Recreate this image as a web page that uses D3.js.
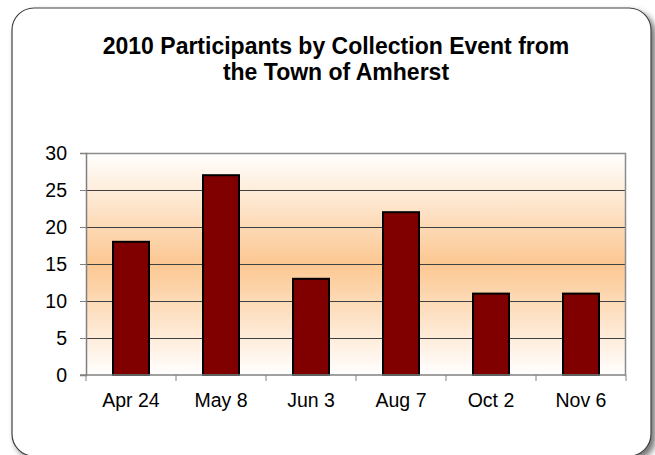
<!DOCTYPE html>
<html>
<head>
<meta charset="utf-8">
<script src="https://cdnjs.cloudflare.com/ajax/libs/d3/7.8.5/d3.min.js"></script>
<style>
  body { margin: 0; background: #fff; }
  text { font-family: "Liberation Sans", Arial, sans-serif; }
</style>
</head>
<body>
<svg width="655" height="455"></svg>
<script>
// chart data
var events = ["Apr 24", "May 8", "Jun 3", "Aug 7", "Oct 2", "Nov 6"];
var participants = [18, 27, 13, 22, 11, 11];
var yTicks = [0, 5, 10, 15, 20, 25, 30];
var titleLines = ["2010 Participants by Collection Event from", "the Town of Amherst"];

var svg = d3.select("svg"),
    margin = {top: 153, right: 29, bottom: 80, left: 86},
    width = +svg.attr("width"),
    height = +svg.attr("height");

var defs = svg.append("defs");

var shadow = defs.append("filter").attr("id", "shadow")
    .attr("x", "-5%").attr("y", "-5%").attr("width", "115%").attr("height", "115%");
shadow.append("feDropShadow")
    .attr("dx", 4).attr("dy", 4).attr("stdDeviation", 3)
    .attr("flood-color", "#000").attr("flood-opacity", 0.55);

var grad = defs.append("linearGradient").attr("id", "bg")
    .attr("x1", 0).attr("y1", 0).attr("x2", 0).attr("y2", 1);
grad.append("stop").attr("offset", "0%").attr("stop-color", "#ffffff");
grad.append("stop").attr("offset", "50%").attr("stop-color", "#fcc791");
grad.append("stop").attr("offset", "100%").attr("stop-color", "#ffffff");

// outer frame
svg.append("rect")
    .attr("x", 12).attr("y", 8)
    .attr("width", 639).attr("height", 448)
    .attr("rx", 22).attr("ry", 22)
    .attr("fill", "#fff")
    .attr("stroke", "#404040")
    .attr("stroke-width", 1.2)
    .attr("filter", "url(#shadow)");

// title
svg.append("text")
    .attr("text-anchor", "middle")
    .attr("font-size", "23px")
    .attr("font-weight", "bold")
    .selectAll("tspan")
    .data(titleLines).enter()
    .append("tspan")
    .attr("x", 336)
    .attr("y", function(d, i) { return 54 + i * 26; })
    .text(function(d) { return d; });

var x = d3.scaleBand()
    .domain(events)
    .range([margin.left, width - margin.right])
    .paddingInner(0.6)
    .paddingOuter(0.3);

var xEdge = d3.scaleLinear()
    .domain([0, events.length])
    .range([margin.left, width - margin.right]);

var y = d3.scaleLinear()
    .domain([0, 30])
    .range([height - margin.bottom, margin.top]);

// plot background
svg.append("rect")
    .attr("x", margin.left)
    .attr("y", margin.top)
    .attr("width", width - margin.right - margin.left)
    .attr("height", y(0) - margin.top)
    .attr("fill", "url(#bg)");

// gridlines
svg.append("g")
    .selectAll("line")
    .data(yTicks.slice(1, -1)).enter()
    .append("line")
    .attr("x1", margin.left)
    .attr("x2", width - margin.right)
    .attr("y1", function(d) { return y(d) + 0.5; })
    .attr("y2", function(d) { return y(d) + 0.5; })
    .attr("stroke", "#404040")
    .attr("stroke-width", 1);

// plot border top / right
svg.append("path")
    .attr("d", "M" + margin.left + "," + (margin.top + 0.5) + "H" + (width - margin.right - 0.5) + "V" + y(0))
    .attr("fill", "none")
    .attr("stroke", "#8c8c8c")
    .attr("stroke-width", 1.5);

// bars
svg.append("g")
    .selectAll("rect")
    .data(participants).enter()
    .append("rect")
    .attr("x", function(d, i) { return x(events[i]); })
    .attr("y", function(d) { return y(d); })
    .attr("width", x.bandwidth())
    .attr("height", function(d) { return y(0) - y(d); })
    .attr("fill", "#800000")
    .attr("stroke", "#000")
    .attr("stroke-width", 2);

// y axis
var yAxis = svg.append("g")
    .attr("transform", "translate(" + margin.left + ",0)")
    .call(d3.axisLeft(y).tickValues(yTicks).tickSize(6).tickPadding(13));
yAxis.selectAll("text").attr("font-size", "19.5px").attr("fill", "#000").attr("font-family", "Liberation Sans, Arial, sans-serif");
yAxis.select(".domain").attr("stroke", "#808080").attr("stroke-width", 1.5);
yAxis.selectAll(".tick line").attr("stroke", "#808080");

// x axis
var xAxis = svg.append("g")
    .attr("transform", "translate(0," + y(0) + ")");
xAxis.append("line")
    .attr("x1", margin.left - 6).attr("x2", width - margin.right)
    .attr("stroke", "#808080").attr("stroke-width", 1.5);
xAxis.selectAll(".xtick")
    .data(d3.range(events.length + 1)).enter()
    .append("line")
    .attr("x1", function(d) { return xEdge(d); })
    .attr("x2", function(d) { return xEdge(d); })
    .attr("y1", 0).attr("y2", 6)
    .attr("stroke", "#808080");
xAxis.selectAll("text")
    .data(events).enter()
    .append("text")
    .attr("x", function(d) { return x(d) + x.bandwidth() / 2; })
    .attr("y", 32)
    .attr("text-anchor", "middle")
    .attr("font-size", "19.5px")
    .text(function(d) { return d; });
</script>
</body>
</html>
